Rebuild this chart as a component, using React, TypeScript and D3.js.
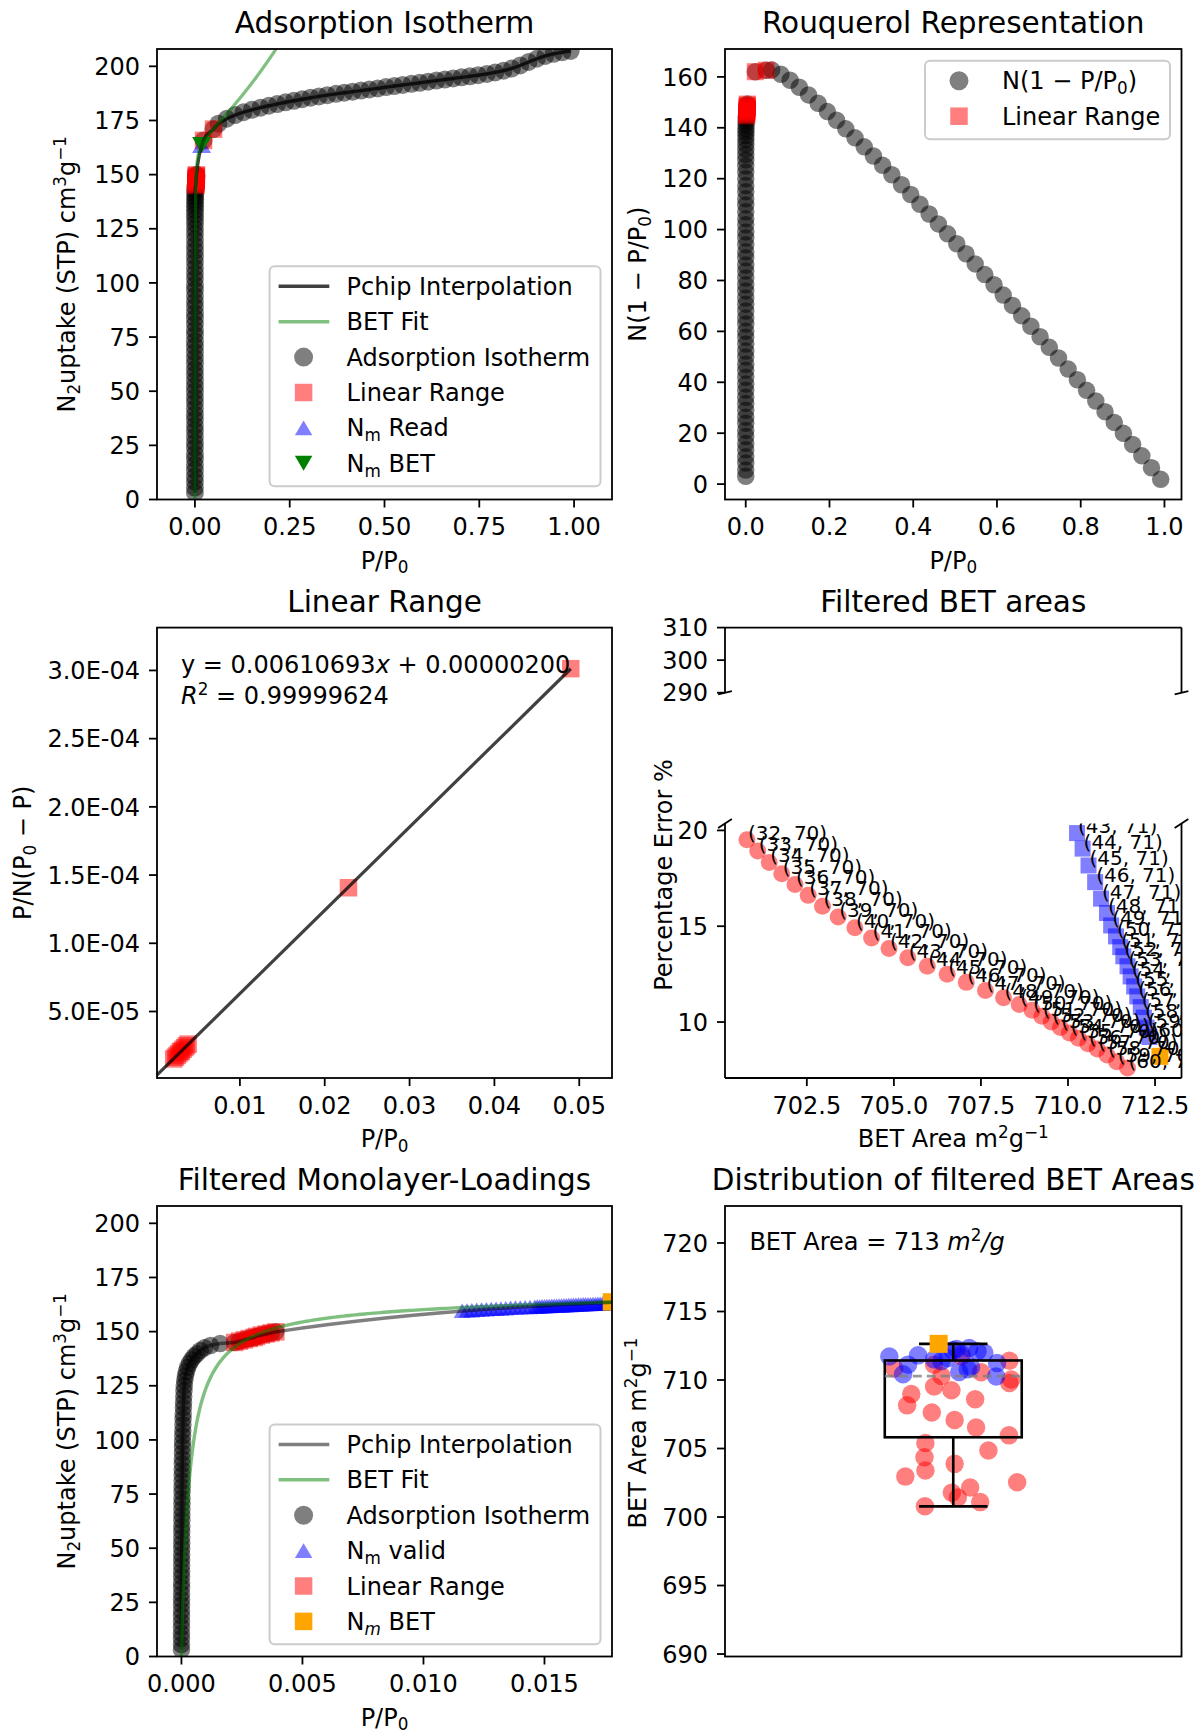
import { useMemo } from "react"
import * as d3 from "d3"

const FONT = "DejaVu Sans, Verdana, sans-serif"
const FS = 24
const TFS = 29.5
const LW = 1.8

// ---- adsorption isotherm: P/P0 and N2 uptake (cm3 g-1 STP) ----
const lowP = [
    0.0000004, 0.0000008, 0.0000012, 0.0000016, 0.000002, 0.0000025, 0.000003, 0.0000035, 0.000004, 0.0000045,
    0.0000051, 0.0000057, 0.0000063, 0.000007, 0.0000077, 0.0000084, 0.0000092, 0.00001, 0.0000109, 0.0000118,
    0.0000128, 0.0000139, 0.000015, 0.0000162, 0.0000175, 0.0000189, 0.0000204, 0.000022, 0.0000237, 0.0000256,
    0.0000276, 0.0000298, 0.0000322, 0.0000348, 0.0000376, 0.0000407, 0.0000441, 0.0000478, 0.0000519, 0.0000564,
    0.0000614, 0.0000669, 0.000073, 0.0000797, 0.000087, 0.000095, 0.000104, 0.000115, 0.000135, 0.000165,
    0.000205, 0.00026, 0.00033, 0.00042, 0.00052, 0.00064, 0.00078, 0.00095, 0.0012, 0.0016,
]
const lowN = [
    3.1, 5.5, 8.3, 10.7, 13.5, 16.0, 18.7, 21.1, 23.9, 26.3,
    29.0, 31.7, 34.1, 36.9, 39.3, 42.0, 44.7, 47.1, 49.9, 52.3,
    55.0, 57.7, 60.1, 62.9, 65.3, 68.0, 70.7, 73.1, 75.9, 78.3,
    81.0, 83.7, 86.1, 88.9, 91.3, 94.0, 96.7, 99.1, 101.9, 104.3,
    107.0, 109.7, 112.1, 114.9, 117.3, 120.0, 122.6, 125.0, 127.4, 129.5,
    131.6, 133.6, 135.4, 137.0, 138.5, 139.8, 141.3, 142.5, 143.6, 144.5,
]
// points of the selected BET linear range
const linP = [0.0022, 0.0024, 0.0026, 0.0028, 0.003, 0.0031, 0.0033, 0.0035, 0.0037, 0.0039, 0.0228, 0.049]
const linN = [145.0, 145.6, 146.2, 146.8, 147.3, 147.8, 148.4, 148.9, 149.4, 149.9, 165.8, 171.0]
const highP = [
    0.062, 0.084, 0.106, 0.128, 0.15, 0.173, 0.195, 0.217, 0.239, 0.261, 0.283, 0.305, 0.327, 0.349, 0.372,
    0.394, 0.416, 0.438, 0.46, 0.482, 0.504, 0.526, 0.548, 0.571, 0.593, 0.615, 0.637, 0.659, 0.681, 0.703,
    0.725, 0.747, 0.77, 0.792, 0.814, 0.836, 0.858, 0.88, 0.902, 0.924, 0.946, 0.969, 0.991,
]
const highN = [
    173.5, 175.8, 177.5, 178.8, 179.9, 180.9, 181.8, 182.6, 183.4, 184.1, 184.8, 185.5, 186.1, 186.7, 187.3,
    187.8, 188.3, 188.8, 189.3, 189.8, 190.4, 190.9, 191.4, 191.9, 192.4, 192.9, 193.4, 193.9, 194.4, 194.9,
    195.4, 195.9, 196.5, 197.2, 198.0, 199.0, 200.4, 202.0, 203.5, 204.8, 205.8, 206.5, 207.1,
]

// BET linear fit
const fitSlope = 0.00610693
const fitIntercept = 0.000002
const fitR2 = "0.99999624"
const areaText = "713"

// monolayer loading points
const nmReadP = 0.01755
const nmBetP = 0.01777

// Nm valid points (P/P0, uptake)
const validP = [
    0.0116, 0.0118, 0.012, 0.0122, 0.0124, 0.0126, 0.0128, 0.013, 0.0132, 0.0134, 0.0136, 0.0138, 0.014, 0.0142,
    0.0144, 0.0146, 0.0147, 0.0148, 0.0149, 0.015, 0.0151, 0.0152, 0.0153, 0.0154, 0.0155, 0.0156, 0.0157, 0.0158,
    0.0159, 0.016, 0.0161, 0.0162, 0.0163, 0.0164, 0.0165, 0.0166, 0.0167, 0.0168, 0.0169, 0.017, 0.0171, 0.0172,
    0.0173, 0.0174, 0.0175, 0.0175, 0.0176,
]
const validN = [
    159.6, 159.8, 159.9, 160.1, 160.2, 160.3, 160.5, 160.6, 160.7, 160.8, 161.0, 161.1, 161.2, 161.3,
    161.4, 161.5, 161.6, 161.6, 161.7, 161.7, 161.8, 161.8, 161.9, 162.0, 162.0, 162.1, 162.1, 162.2,
    162.2, 162.3, 162.3, 162.4, 162.4, 162.5, 162.5, 162.6, 162.6, 162.7, 162.7, 162.8, 162.8, 162.9,
    162.9, 163.0, 163.0, 163.1, 163.1,
]

// filtered BET areas: ranges ending at point 70 (red) and 71 (blue)
const redEnd = 70
const redStart = [32, 33, 34, 35, 36, 37, 38, 39, 40, 41, 42, 43, 44, 45, 46, 47, 48, 49, 50, 51, 52, 53, 54, 55, 56, 57, 58, 59, 60]
const redArea = [
    700.78, 701.09, 701.42, 701.78, 702.16, 702.54, 702.95, 703.4, 703.88, 704.36, 704.86, 705.4, 705.96, 706.53,
    707.08, 707.63, 708.15, 708.6, 708.97, 709.25, 709.52, 709.78, 710.04, 710.3, 710.57, 710.84, 711.12, 711.4, 711.71,
]
const redErr = [
    19.51, 18.92, 18.33, 17.74, 17.18, 16.61, 16.04, 15.48, 14.92, 14.38, 13.84, 13.36, 12.91, 12.49,
    12.07, 11.65, 11.27, 10.92, 10.61, 10.3, 10.0, 9.71, 9.43, 9.15, 8.87, 8.59, 8.28, 7.93, 7.6,
]
const blueEnd = 71
const blueStart = [43, 44, 45, 46, 47, 48, 49, 50, 51, 52, 53, 54, 55, 56, 57, 58, 59, 60]
const blueArea = [
    710.26, 710.42, 710.59, 710.78, 710.95, 711.12, 711.24, 711.38, 711.5, 711.59, 711.71, 711.8, 711.9, 711.99,
    712.09, 712.18, 712.26, 712.34,
]
const blueErr = [
    19.86, 19.05, 18.17, 17.3, 16.44, 15.69, 15.04, 14.47, 13.91, 13.43, 12.91, 12.38, 11.86, 11.34,
    10.78, 10.23, 9.71, 9.22,
]
const optArea = 712.64
const optErr = 8.21

// horizontal jitter of the distribution plot
const redJit = [
    0.938, 1.059, 1.01, 0.997, 1.037, 1.14, 0.895, 0.939, 1.003, 0.937, 1.077, 0.939, 1.122, 1.05, 1.003,
    0.953, 0.899, 1.048, 0.908, 0.996, 0.958, 1.123, 1.127, 0.974, 1.061, 0.871, 0.958, 1.123, 1.018,
]
const blueJit = [
    1.094, 0.89, 1.013, 1.032, 1.039, 0.901, 1.096, 0.974, 0.958, 0.988, 0.86, 0.923, 1.018, 1.068, 1.053,
    0.999, 1.007, 1.035,
]
const optJit = 0.968

// ticks
const tick1x = [0, 0.25, 0.5, 0.75, 1]
const tick1xLab = ["0.00", "0.25", "0.50", "0.75", "1.00"]
const tickNy = [0, 25, 50, 75, 100, 125, 150, 175, 200]
const tick2x = [0, 0.2, 0.4, 0.6, 0.8, 1]
const tick2xLab = ["0.0", "0.2", "0.4", "0.6", "0.8", "1.0"]
const tick2y = [0, 20, 40, 60, 80, 100, 120, 140, 160]
const tick3x = [0.01, 0.02, 0.03, 0.04, 0.05]
const tick3xLab = ["0.01", "0.02", "0.03", "0.04", "0.05"]
const tick3y = [0.00005, 0.0001, 0.00015, 0.0002, 0.00025, 0.0003]
const tick3yLab = ["5.0E-05", "1.0E-04", "1.5E-04", "2.0E-04", "2.5E-04", "3.0E-04"]
const tick4x = [702.5, 705, 707.5, 710, 712.5]
const tick4xLab = ["702.5", "705.0", "707.5", "710.0", "712.5"]
const tick4yTop = [290, 300, 310]
const tick4yBot = [10, 15, 20]
const tick5x = [0, 0.005, 0.01, 0.015]
const tick5xLab = ["0.000", "0.005", "0.010", "0.015"]
const tick6y = [690, 695, 700, 705, 710, 715, 720]

// ---- layout ----
const G1 = { l: 157, r: 612, t: 49, b: 499.5 }
const G2 = { l: 725, r: 1181.5, t: 49, b: 499.5 }
const G3 = { l: 157, r: 612, t: 627.6, b: 1078 }
const G4u = { l: 725, r: 1181.5, t: 627.6, b: 692.7 }
const G4l = { l: 725, r: 1181.5, t: 823.5, b: 1078 }
const G5 = { l: 157, r: 612, t: 1206, b: 1656.5 }
const G6 = { l: 725, r: 1181.5, t: 1206, b: 1656.5 }

const RED = "#ff0000"
const BLUE = "#0000ff"
const GREEN = "#008000"
const ORANGE = "#ffa500"

function Rich({ segs, fs }: any) {
    if (typeof segs === "string") return <>{segs}</>
    let cur = 0
    return (
        <>
            {segs.map((s: any, i: number) => {
                const target = s.sub ? fs * 0.2 : s.sup ? -fs * 0.36 : 0
                const dy = target - cur
                cur = target
                return (
                    <tspan
                        key={i}
                        dy={dy}
                        fontSize={s.sub || s.sup ? fs * 0.7 : fs}
                        fontStyle={s.it ? "italic" : "normal"}
                    >
                        {s.t}
                    </tspan>
                )
            })}
        </>
    )
}

function Mark({ k, x, y, sz, fill, op }: any) {
    if (k === "circle") return <circle cx={x} cy={y} r={sz / 2} fill={fill} fillOpacity={op} />
    if (k === "square")
        return <rect x={x - sz / 2} y={y - sz / 2} width={sz} height={sz} fill={fill} fillOpacity={op} />
    const w = sz
    const h = sz * 0.85
    const d =
        k === "up"
            ? `M${x},${y - h / 2}L${x + w / 2},${y + h / 2}L${x - w / 2},${y + h / 2}Z`
            : `M${x},${y + h / 2}L${x + w / 2},${y - h / 2}L${x - w / 2},${y - h / 2}Z`
    return <path d={d} fill={fill} fillOpacity={op} />
}

function Frame({ g }: any) {
    return (
        <rect x={g.l} y={g.t} width={g.r - g.l} height={g.b - g.t} fill="none" stroke="#000" strokeWidth={LW} />
    )
}

function XTicks({ g, s, vals, labs }: any) {
    return (
        <g>
            {vals.map((v: number, i: number) => (
                <g key={i}>
                    <line x1={s(v)} x2={s(v)} y1={g.b} y2={g.b + 8} stroke="#000" strokeWidth={LW} />
                    <text x={s(v)} y={g.b + 35.5} textAnchor="middle" fontSize={FS}>
                        {labs[i]}
                    </text>
                </g>
            ))}
        </g>
    )
}

function YTicks({ g, s, vals, labs }: any) {
    return (
        <g>
            {vals.map((v: number, i: number) => (
                <g key={i}>
                    <line x1={g.l - 8} x2={g.l} y1={s(v)} y2={s(v)} stroke="#000" strokeWidth={LW} />
                    <text x={g.l - 17} y={s(v) + 8.7} textAnchor="end" fontSize={FS}>
                        {labs ? labs[i] : String(v)}
                    </text>
                </g>
            ))}
        </g>
    )
}

function YLabel({ x, y, segs }: any) {
    return (
        <text transform={`translate(${x},${y}) rotate(-90)`} textAnchor="middle" fontSize={FS}>
            <Rich segs={segs} fs={FS} />
        </text>
    )
}

function XLabel({ g, segs }: any) {
    return (
        <text x={(g.l + g.r) / 2} y={g.b + 69} textAnchor="middle" fontSize={FS}>
            <Rich segs={segs} fs={FS} />
        </text>
    )
}

function Title({ g, text }: any) {
    return (
        <text x={(g.l + g.r) / 2} y={g.t - 16} textAnchor="middle" fontSize={TFS}>
            {text}
        </text>
    )
}

function Legend({ box, items }: any) {
    const [x0, y0, x1, y1] = box
    return (
        <g>
            <rect
                x={x0}
                y={y0}
                width={x1 - x0}
                height={y1 - y0}
                rx={5}
                fill="#fff"
                fillOpacity={0.8}
                stroke="#cccccc"
                strokeWidth={2}
            />
            {items.map((it: any, i: number) => {
                const cy = y0 + 20 + i * 35.4
                return (
                    <g key={i}>
                        {it.k === "line" ? (
                            <line
                                x1={x0 + 9}
                                x2={x0 + 59.7}
                                y1={cy}
                                y2={cy}
                                stroke={it.c}
                                strokeOpacity={it.op}
                                strokeWidth={3.5}
                            />
                        ) : (
                            <Mark k={it.k} x={x0 + 34} y={cy} sz={it.k === "circle" ? 19 : 17.5} fill={it.c} op={it.op} />
                        )}
                        <text x={x0 + 77} y={cy + 8.5} fontSize={FS}>
                            <Rich segs={it.label} fs={FS} />
                        </text>
                    </g>
                )
            })}
        </g>
    )
}

const lblN = [{ t: "N" }, { t: "2", sub: true }, { t: "uptake (STP) cm" }, { t: "3", sup: true }, { t: "g" }, { t: "\u22121", sup: true }]
const lblP = [{ t: "P/P" }, { t: "0", sub: true }]
const lblRouq = [{ t: "N(1 \u2212 P/P" }, { t: "0", sub: true }, { t: ")" }]
const lblLin = [{ t: "P/N(P" }, { t: "0", sub: true }, { t: " \u2212 P)" }]
const lblArea = [{ t: "BET Area m" }, { t: "2", sup: true }, { t: "g" }, { t: "\u22121", sup: true }]

export default function App() {
    const isoP = [...lowP, ...linP, ...highP]
    const isoN = [...lowN, ...linN, ...highN]

    const nm = 1 / (fitSlope + fitIntercept)
    const cBet = fitSlope / fitIntercept + 1
    const bet = (x: number) => (nm * cBet * x) / ((1 - x) * (1 - x + cBet * x))
    const betX = useMemo(() => d3.range(0, 601).map((i) => 0.3 * Math.pow(i / 600, 3)), [])

    // scales
    const x1 = d3.scaleLinear().domain([-0.1, 1.1]).range([G1.l, G1.r])
    const y1 = d3.scaleLinear().domain([0, 208]).range([G1.b, G1.t])
    const x2 = d3.scaleLinear().domain([-0.0495, 1.0407]).range([G2.l, G2.r])
    const y2 = d3.scaleLinear().domain([-6.05, 170.95]).range([G2.b, G2.t])
    const x3 = d3.scaleLinear().domain([0.00023, 0.05386]).range([G3.l, G3.r])
    const y3 = d3.scaleLinear().domain([0.00000125, 0.0003314]).range([G3.b, G3.t])
    const x4 = d3.scaleLinear().domain([700.15, 713.26]).range([G4l.l, G4l.r])
    const y4u = d3.scaleLinear().domain([290, 310]).range([G4u.b, G4u.t])
    const y4 = d3.scaleLinear().domain([7.08, 20.36]).range([G4l.b, G4l.t])
    const x5 = d3.scaleLinear().domain([-0.00101, 0.01779]).range([G5.l, G5.r])
    const y5 = d3.scaleLinear().domain([0, 208]).range([G5.b, G5.t])
    const x6 = d3.scaleLinear().domain([0.5, 1.5]).range([G6.l, G6.r])
    const y6 = d3.scaleLinear().domain([689.82, 722.7]).range([G6.b, G6.t])

    const path = (xs: number[], ys: number[], sx: any, sy: any, curve?: any) => {
        const l = d3
            .line<number>()
            .x((_, i) => sx(xs[i]))
            .y((_, i) => sy(ys[i]))
        if (curve) l.curve(curve)
        return l(xs) || ""
    }

    const pchip1 = path(isoP, isoN, x1, y1, d3.curveMonotoneX)
    const pchip5 = path(isoP, isoN, x5, y5, d3.curveMonotoneX)
    const betY = betX.map(bet)
    const bet1 = path(betX, betY, x1, y1)
    const bet5 = path(betX, betY, x5, y5)

    const rouq = isoN.map((n, i) => n * (1 - isoP[i]))
    const linRouq = linN.map((n, i) => n * (1 - linP[i]))
    const linY = linP.map((p, i) => p / (linN[i] * (1 - p)))
    const fitX = [0, linP[linP.length - 1]]
    const fitY = fitX.map((x) => fitSlope * x + fitIntercept)

    // box plot stats
    const all = [...redArea, ...blueArea, optArea].sort(d3.ascending)
    const q1 = d3.quantileSorted(all, 0.25) as number
    const med = d3.quantileSorted(all, 0.5) as number
    const q3 = d3.quantileSorted(all, 0.75) as number
    const iqr = q3 - q1
    const wLo = d3.min(all.filter((v) => v >= q1 - 1.5 * iqr)) as number
    const wHi = d3.max(all.filter((v) => v <= q3 + 1.5 * iqr)) as number
    const bx = 1
    const bw = 0.15

    const nmRead = { x: nmReadP, y: nm }
    const nmBet = { x: nmBetP, y: nm }

    const clip = (id: string, g: any) => (
        <clipPath id={id}>
            <rect x={g.l} y={g.t} width={g.r - g.l} height={g.b - g.t} />
        </clipPath>
    )

    const d = 0.015
    const w4 = G4l.r - G4l.l
    const hu = G4u.b - G4u.t
    const hl = G4l.b - G4l.t

    return (
        <div style={{ position: "absolute", left: 0, top: 0 }}>
            <svg width={1200} height={1733} fontFamily={FONT} style={{ display: "block", background: "#fff" }}>
                <defs>
                    {clip("c1", G1)}
                    {clip("c2", G2)}
                    {clip("c3", G3)}
                    {clip("c4", G4l)}
                    {clip("c5", G5)}
                    {clip("c6", G6)}
                </defs>
                <rect width={1200} height={1733} fill="#fff" />

                {/* ---- Adsorption Isotherm ---- */}
                <g clipPath="url(#c1)">
                    {isoP.map((p, i) => (
                        <Mark key={i} k="circle" x={x1(p)} y={y1(isoN[i])} sz={18} fill="#000" op={0.5} />
                    ))}
                    {linP.map((p, i) => (
                        <Mark key={i} k="square" x={x1(p)} y={y1(linN[i])} sz={17.5} fill={RED} op={0.5} />
                    ))}
                    <Mark k="up" x={x1(nmRead.x)} y={y1(nmRead.y)} sz={19} fill={BLUE} op={0.5} />
                    <Mark k="down" x={x1(nmBet.x)} y={y1(nmBet.y)} sz={19} fill={GREEN} op={1} />
                    <path d={pchip1} fill="none" stroke="#000" strokeOpacity={0.75} strokeWidth={3.4} />
                    <path d={bet1} fill="none" stroke={GREEN} strokeOpacity={0.5} strokeWidth={3.2} />
                </g>
                <Frame g={G1} />
                <XTicks g={G1} s={x1} vals={tick1x} labs={tick1xLab} />
                <YTicks g={G1} s={y1} vals={tickNy} />
                <Title g={G1} text="Adsorption Isotherm" />
                <XLabel g={G1} segs={lblP} />
                <YLabel x={75} y={(G1.t + G1.b) / 2} segs={lblN} />
                <Legend
                    box={[269.6, 266.3, 600.5, 486.2]}
                    items={[
                        { k: "line", c: "#000", op: 0.75, label: "Pchip Interpolation" },
                        { k: "line", c: GREEN, op: 0.5, label: "BET Fit" },
                        { k: "circle", c: "#000", op: 0.5, label: "Adsorption Isotherm" },
                        { k: "square", c: RED, op: 0.5, label: "Linear Range" },
                        { k: "up", c: BLUE, op: 0.5, label: [{ t: "N" }, { t: "m", sub: true }, { t: " Read" }] },
                        { k: "down", c: GREEN, op: 1, label: [{ t: "N" }, { t: "m", sub: true }, { t: " BET" }] },
                    ]}
                />

                {/* ---- Rouquerol Representation ---- */}
                <g clipPath="url(#c2)">
                    {isoP.map((p, i) => (
                        <Mark key={i} k="circle" x={x2(p)} y={y2(rouq[i])} sz={17.5} fill="#000" op={0.5} />
                    ))}
                    {linP.map((p, i) => (
                        <Mark key={i} k="square" x={x2(p)} y={y2(linRouq[i])} sz={17} fill={RED} op={0.5} />
                    ))}
                </g>
                <Frame g={G2} />
                <XTicks g={G2} s={x2} vals={tick2x} labs={tick2xLab} />
                <YTicks g={G2} s={y2} vals={tick2y} />
                <Title g={G2} text="Rouquerol Representation" />
                <XLabel g={G2} segs={lblP} />
                <YLabel x={646} y={(G2.t + G2.b) / 2} segs={lblRouq} />
                <Legend
                    box={[925, 60.8, 1170, 139.2]}
                    items={[
                        { k: "circle", c: "#000", op: 0.5, label: lblRouq },
                        { k: "square", c: RED, op: 0.5, label: "Linear Range" },
                    ]}
                />

                {/* ---- Linear Range ---- */}
                <g clipPath="url(#c3)">
                    {linP.map((p, i) => (
                        <Mark key={i} k="square" x={x3(p)} y={y3(linY[i])} sz={17.5} fill={RED} op={0.5} />
                    ))}
                    <path d={path(fitX, fitY, x3, y3)} fill="none" stroke="#000" strokeOpacity={0.75} strokeWidth={3.2} />
                </g>
                <Frame g={G3} />
                <XTicks g={G3} s={x3} vals={tick3x} labs={tick3xLab} />
                <YTicks g={G3} s={y3} vals={tick3y} labs={tick3yLab} />
                <Title g={G3} text="Linear Range" />
                <XLabel g={G3} segs={lblP} />
                <YLabel x={31} y={(G3.t + G3.b) / 2} segs={lblLin} />
                <text x={181} y={673} fontSize={FS}>
                    <Rich
                        segs={[
                            { t: `y = ${fitSlope.toFixed(8)}` },
                            { t: "x", it: true },
                            { t: ` + ${fitIntercept.toFixed(8)}` },
                        ]}
                        fs={FS}
                    />
                </text>
                <text x={181} y={704} fontSize={FS}>
                    <Rich segs={[{ t: "R", it: true }, { t: "2", sup: true }, { t: ` = ${fitR2}` }]} fs={FS} />
                </text>

                {/* ---- Filtered BET areas (broken axis) ---- */}
                <g stroke="#000" strokeWidth={LW}>
                    <line x1={G4u.l} x2={G4u.r} y1={G4u.t} y2={G4u.t} />
                    <line x1={G4u.l} x2={G4u.l} y1={G4u.t} y2={G4u.b} />
                    <line x1={G4u.r} x2={G4u.r} y1={G4u.t} y2={G4u.b} />
                    <line x1={G4l.l} x2={G4l.r} y1={G4l.b} y2={G4l.b} />
                    <line x1={G4l.l} x2={G4l.l} y1={G4l.t} y2={G4l.b} />
                    <line x1={G4l.r} x2={G4l.r} y1={G4l.t} y2={G4l.b} />
                    {[G4u.l, G4u.r].map((x, i) => (
                        <line key={"u" + i} x1={x - d * w4} x2={x + d * w4} y1={G4u.b + d * hu * 1.6} y2={G4u.b - d * hu * 1.6} />
                    ))}
                    {[G4l.l, G4l.r].map((x, i) => (
                        <line key={"l" + i} x1={x - d * w4} x2={x + d * w4} y1={G4l.t + d * hl * 1.2} y2={G4l.t - d * hl * 1.2} />
                    ))}
                </g>
                <YTicks g={G4u} s={y4u} vals={tick4yTop} />
                <YTicks g={G4l} s={y4} vals={tick4yBot} />
                <XTicks g={G4l} s={x4} vals={tick4x} labs={tick4xLab} />
                <g clipPath="url(#c4)">
                    {redArea.map((a, i) => (
                        <Mark key={i} k="circle" x={x4(a)} y={y4(redErr[i])} sz={17} fill={RED} op={0.5} />
                    ))}
                    {blueArea.map((a, i) => (
                        <Mark key={i} k="square" x={x4(a)} y={y4(blueErr[i])} sz={16} fill={BLUE} op={0.5} />
                    ))}
                    <Mark k="square" x={x4(optArea)} y={y4(optErr)} sz={17} fill={ORANGE} op={1} />
                    {redArea.map((a, i) => (
                        <text key={i} x={x4(a) + 1} y={y4(redErr[i])} fontSize={20}>
                            {`(${redStart[i]}, ${redEnd})`}
                        </text>
                    ))}
                    {blueArea.map((a, i) => (
                        <text key={i} x={x4(a) + 1} y={y4(blueErr[i])} fontSize={20}>
                            {`(${blueStart[i]}, ${blueEnd})`}
                        </text>
                    ))}
                </g>
                <Title g={G4u} text="Filtered BET areas" />
                <XLabel g={G4l} segs={lblArea} />
                <YLabel x={672} y={875} segs="Percentage Error %" />

                {/* ---- Filtered Monolayer-Loadings ---- */}
                <g clipPath="url(#c5)">
                    {isoP.map((p, i) => (
                        <Mark key={i} k="circle" x={x5(p)} y={y5(isoN[i])} sz={17.5} fill="#000" op={0.5} />
                    ))}
                    {validP.map((p, i) => (
                        <Mark key={i} k="up" x={x5(p)} y={y5(validN[i])} sz={17} fill={BLUE} op={0.5} />
                    ))}
                    {linP.map((p, i) => (
                        <Mark key={i} k="square" x={x5(p)} y={y5(linN[i])} sz={17.5} fill={RED} op={0.5} />
                    ))}
                    <Mark k="square" x={x5(nmBet.x)} y={y5(nmBet.y)} sz={17.5} fill={ORANGE} op={1} />
                    <path d={pchip5} fill="none" stroke="#000" strokeOpacity={0.5} strokeWidth={3.4} />
                    <path d={bet5} fill="none" stroke={GREEN} strokeOpacity={0.5} strokeWidth={3.4} />
                </g>
                <Frame g={G5} />
                <XTicks g={G5} s={x5} vals={tick5x} labs={tick5xLab} />
                <YTicks g={G5} s={y5} vals={tickNy} />
                <Title g={G5} text="Filtered Monolayer-Loadings" />
                <XLabel g={G5} segs={lblP} />
                <YLabel x={75} y={(G5.t + G5.b) / 2} segs={lblN} />
                <Legend
                    box={[269.6, 1424.4, 600.5, 1644.2]}
                    items={[
                        { k: "line", c: "#000", op: 0.5, label: "Pchip Interpolation" },
                        { k: "line", c: GREEN, op: 0.5, label: "BET Fit" },
                        { k: "circle", c: "#000", op: 0.5, label: "Adsorption Isotherm" },
                        { k: "up", c: BLUE, op: 0.5, label: [{ t: "N" }, { t: "m", sub: true }, { t: " valid" }] },
                        { k: "square", c: RED, op: 0.5, label: "Linear Range" },
                        { k: "square", c: ORANGE, op: 1, label: [{ t: "N" }, { t: "m", sub: true, it: true }, { t: " BET" }] },
                    ]}
                />

                {/* ---- Distribution of filtered BET Areas ---- */}
                <g clipPath="url(#c6)">
                    {redArea.map((a, i) => (
                        <Mark key={i} k="circle" x={x6(redJit[i])} y={y6(a)} sz={18.5} fill={RED} op={0.5} />
                    ))}
                    {blueArea.map((a, i) => (
                        <Mark key={i} k="circle" x={x6(blueJit[i])} y={y6(a)} sz={18.5} fill={BLUE} op={0.5} />
                    ))}
                    <g stroke="#000" strokeWidth={2.6} fill="none">
                        <rect x={x6(bx - bw)} y={y6(q3)} width={x6(bx + bw) - x6(bx - bw)} height={y6(q1) - y6(q3)} />
                        <line x1={x6(bx)} x2={x6(bx)} y1={y6(q3)} y2={y6(wHi)} />
                        <line x1={x6(bx)} x2={x6(bx)} y1={y6(q1)} y2={y6(wLo)} />
                        <line x1={x6(bx - bw / 2)} x2={x6(bx + bw / 2)} y1={y6(wHi)} y2={y6(wHi)} />
                        <line x1={x6(bx - bw / 2)} x2={x6(bx + bw / 2)} y1={y6(wLo)} y2={y6(wLo)} />
                    </g>
                    <line
                        x1={x6(bx - bw)}
                        x2={x6(bx + bw)}
                        y1={y6(med)}
                        y2={y6(med)}
                        stroke="#808080"
                        strokeOpacity={0.8}
                        strokeWidth={2.6}
                        strokeDasharray="9,5"
                    />
                    <Mark k="square" x={x6(optJit)} y={y6(optArea)} sz={18} fill={ORANGE} op={1} />
                </g>
                <Frame g={G6} />
                <YTicks g={G6} s={y6} vals={tick6y} />
                <Title g={G6} text="Distribution of filtered BET Areas" />
                <YLabel x={646} y={1433} segs={lblArea} />
                <text x={749.4} y={1250} fontSize={FS}>
                    <Rich
                        segs={[
                            { t: `BET Area = ${areaText} ` },
                            { t: "m", it: true },
                            { t: "2", sup: true },
                            { t: "/g", it: true },
                        ]}
                        fs={FS}
                    />
                </text>
            </svg>
        </div>
    )
}
